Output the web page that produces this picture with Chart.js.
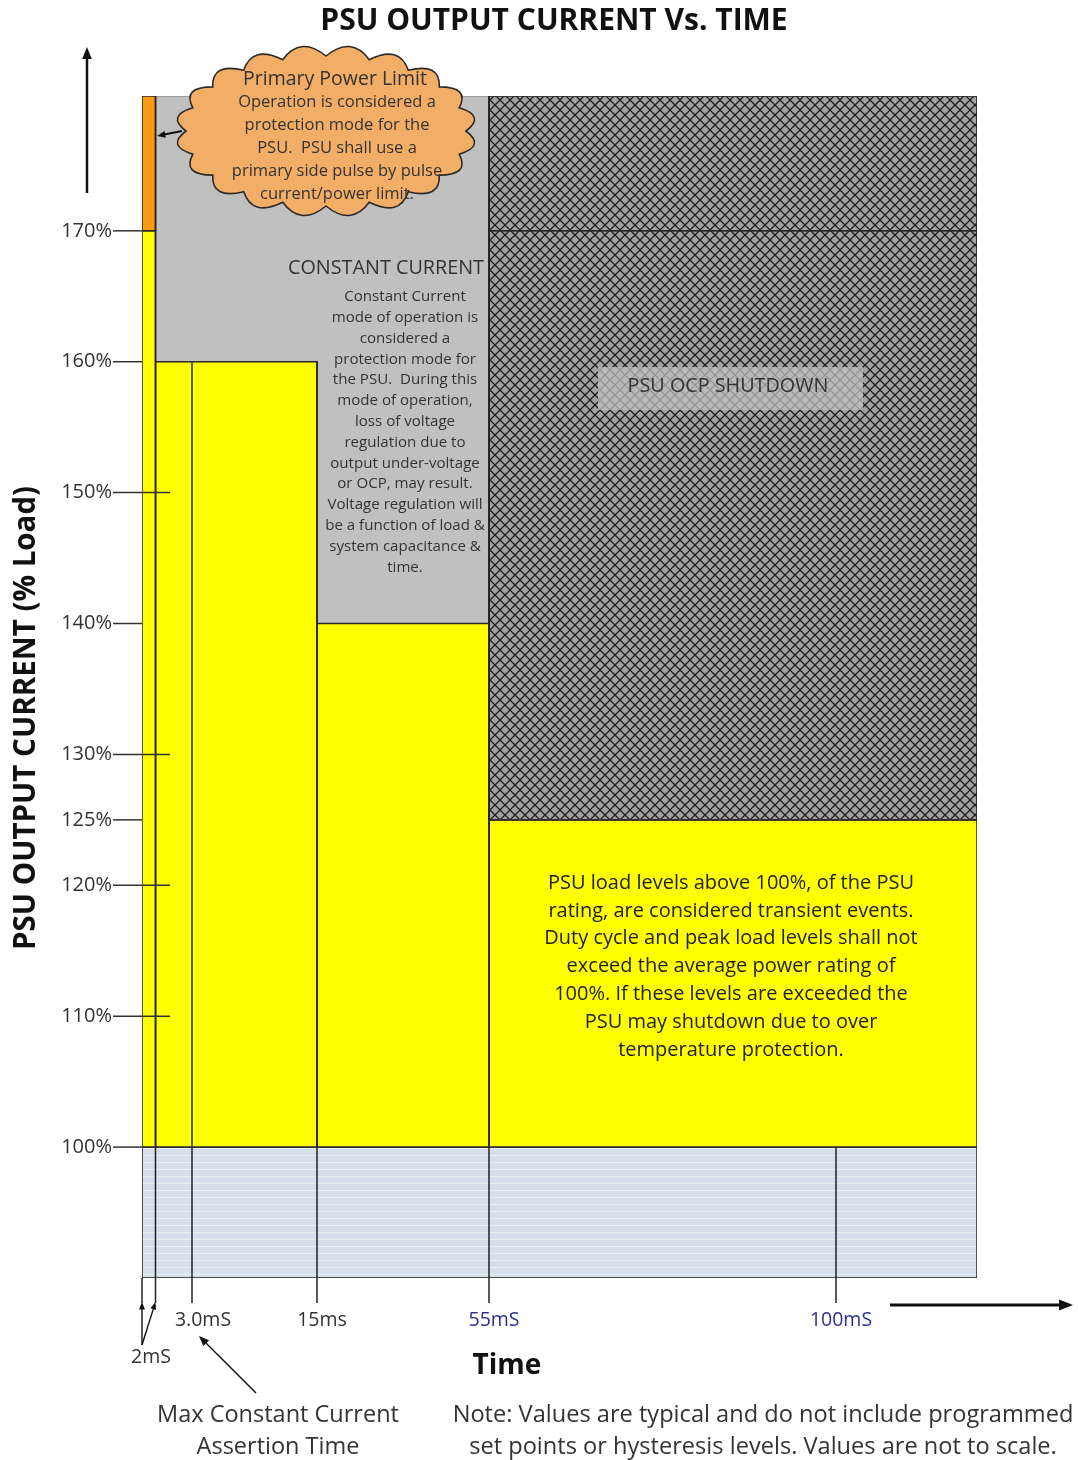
<!DOCTYPE html>
<html><head><meta charset="utf-8">
<script src="https://cdn.jsdelivr.net/npm/chart.js@4.4.1/dist/chart.umd.min.js"></script>
<style>html,body{margin:0;padding:0;background:#fff;}#wrap{width:1078px;height:1460px;position:relative;}</style>
</head><body><div id="wrap"><canvas id="c" width="1078" height="1460"></canvas></div>
<script>
// ================= DATA =================
const LOAD_MIN = 90;          // % load at the bottom of the diagram
const LOAD_MAX = 180.3;       // % load at the top of the diagram
const TIME_END = 120;         // ms, right end of the (not to scale) time axis

const timeTicksMs    = [2, 3, 15, 55, 100];
const timeTickLabels = ['2mS', '3.0mS', '15ms', '55mS', '100mS'];
const timeMarkerTop  = [LOAD_MAX, 160, 160, LOAD_MAX, 100];   // load level where each time marker starts

const loadTicks      = [100, 110, 120, 125, 130, 140, 150, 160, 170];
const loadTickLabels = ['100%', '110%', '120%', '125%', '130%', '140%', '150%', '160%', '170%'];

// regions as [tStart ms, tEnd ms, loadLow %, loadHigh %]
const normalOperation   = [[0, TIME_END, 90, 100]];
const transientLoad     = [[0, 2, 100, 170], [2, 15, 100, 160], [15, 55, 100, 140], [55, TIME_END, 100, 125]];
const primaryPowerLimit = [[0, 2, 170, LOAD_MAX]];
const ocpShutdown       = [[55, TIME_END, 125, 170], [55, TIME_END, 170, LOAD_MAX]];
// constant current region as polygon vertices [t ms, load %]
const constantCurrent   = [[2, 160], [15, 160], [15, 140], [55, 140], [55, LOAD_MAX], [2, LOAD_MAX]];

// ================= LAYOUT (schematic, not to scale) =================
const schematicTimes = [0, 2, 3, 15, 55, 100, TIME_END];
const schematicUnits = [0, 13.5, 50, 175, 347, 694, 835];
function sx(t) {
  for (let i = 1; i < schematicTimes.length; i++) {
    if (t <= schematicTimes[i]) {
      const a = schematicTimes[i - 1], b = schematicTimes[i];
      return schematicUnits[i - 1] + (t - a) / (b - a) * (schematicUnits[i] - schematicUnits[i - 1]);
    }
  }
  return schematicUnits[schematicUnits.length - 1];
}

const FONT = '"Open Sans", "DejaVu Sans", sans-serif';

function makePattern(w, h, draw) {
  const c = document.createElement('canvas'); c.width = w; c.height = h;
  draw(c.getContext('2d'));
  return c.getContext('2d').createPattern(c, 'repeat');
}
const crossHatch = makePattern(10, 10, g => {
  g.fillStyle = '#a2a2a2'; g.fillRect(0, 0, 10, 10);
  g.strokeStyle = '#1e1e1e'; g.lineWidth = 1.25;
  g.beginPath(); g.moveTo(0, 0); g.lineTo(10, 10); g.moveTo(10, 0); g.lineTo(0, 10); g.stroke();
});
const lightStripes = makePattern(8, 7, g => {
  g.fillStyle = '#d6dfec'; g.fillRect(0, 0, 8, 7);
  g.fillStyle = '#ebf0f7'; g.fillRect(0, 0, 8, 1);
});

function rectPts(r) {
  const [t0, t1, a, b] = r;
  return [{x: sx(t0), y: a}, {x: sx(t1), y: a}, {x: sx(t1), y: b}, {x: sx(t0), y: b}, {x: sx(t0), y: a}];
}
function polyPts(p) {
  const pts = p.map(([t, v]) => ({x: sx(t), y: v}));
  pts.push(pts[0]);
  return pts;
}

const datasets = [];
function addRegion(label, rects, bg, border, bw, order) {
  rects.forEach(r => datasets.push({
    label, data: rectPts(r), fill: 'shape', backgroundColor: bg,
    borderColor: border, borderWidth: bw, pointRadius: 0, tension: 0, order, borderJoinStyle: 'miter'
  }));
}
datasets.push({label: 'Constant current', data: polyPts(constantCurrent), fill: 'shape',
  backgroundColor: '#c0c0c0', borderColor: '#7a7a7a', borderWidth: 1.2, pointRadius: 0, tension: 0, order: 60});
addRegion('Normal operation', normalOperation, lightStripes, '#222', 1.5, 50);
addRegion('Transient load', transientLoad, '#ffff00', '#2a2a2a', 1.5, 40);
addRegion('Primary power limit', primaryPowerLimit, '#fb9a0e', '#2a2a2a', 1.5, 30);
addRegion('PSU OCP shutdown', ocpShutdown, crossHatch, '#2a2a2a', 1.7, 20);
timeTicksMs.forEach((t, i) => datasets.push({
  label: timeTickLabels[i], data: [{x: sx(t), y: LOAD_MIN}, {x: sx(t), y: timeMarkerTop[i]}],
  fill: false, borderColor: '#222', borderWidth: 1.5, pointRadius: 0, order: 5
}));

// ================= ANNOTATIONS =================
function arrow(ctx, x1, y1, x2, y2, head, width, color) {
  ctx.save();
  ctx.strokeStyle = color || '#111'; ctx.fillStyle = color || '#111'; ctx.lineWidth = width;
  const ang = Math.atan2(y2 - y1, x2 - x1);
  const bx = x2 - Math.cos(ang) * head * 0.8, by = y2 - Math.sin(ang) * head * 0.8;
  ctx.beginPath(); ctx.moveTo(x1, y1); ctx.lineTo(bx, by); ctx.stroke();
  ctx.beginPath(); ctx.moveTo(x2, y2);
  ctx.lineTo(x2 - head * Math.cos(ang - 0.38), y2 - head * Math.sin(ang - 0.38));
  ctx.lineTo(x2 - head * Math.cos(ang + 0.38), y2 - head * Math.sin(ang + 0.38));
  ctx.closePath(); ctx.fill();
  ctx.restore();
}
function text(ctx, s, x, y, size, opts) {
  opts = opts || {};
  ctx.save();
  ctx.font = (opts.bold ? 'bold ' : '') + size + 'px ' + FONT;
  ctx.fillStyle = opts.color || '#222';
  ctx.textAlign = opts.align || 'center';
  ctx.textBaseline = 'middle';
  ctx.fillText(s, x, y);
  ctx.restore();
}
function lines(ctx, arr, x, y0, dy, size, opts) {
  arr.forEach((s, i) => text(ctx, s, x, y0 + i * dy, size, opts));
}
function cloud(ctx, cx, cy, rx, ry, n, bump) {
  ctx.save();
  ctx.beginPath();
  for (let i = 0; i < n; i++) {
    const a0 = i / n * Math.PI * 2, a1 = (i + 1) / n * Math.PI * 2, am = (a0 + a1) / 2;
    const p0x = cx + rx * Math.cos(a0), p0y = cy + ry * Math.sin(a0);
    const p1x = cx + rx * Math.cos(a1), p1y = cy + ry * Math.sin(a1);
    const cxp = cx + (rx + bump * 2) * Math.cos(am), cyp = cy + (ry + bump * 2) * Math.sin(am);
    if (i === 0) ctx.moveTo(p0x, p0y);
    ctx.quadraticCurveTo(cxp, cyp, p1x, p1y);
  }
  ctx.closePath();
  ctx.fillStyle = '#f2ad66'; ctx.fill();
  ctx.strokeStyle = '#2a2a2a'; ctx.lineWidth = 1.6; ctx.stroke();
  ctx.restore();
}

const annotationPlugin = {
  id: 'psuAnnotations',
  afterDraw(chart) {
    const ctx = chart.ctx, xs = chart.scales.x, ys = chart.scales.y, area = chart.chartArea;
    const X = t => xs.getPixelForValue(sx(t));
    const Y = v => ys.getPixelForValue(v);

    // title
    text(ctx, 'PSU OUTPUT CURRENT Vs. TIME', 554, 21, 30, {bold: true, color: '#111'});
    // y title
    ctx.save(); ctx.translate(27, 718); ctx.rotate(-Math.PI / 2);
    text(ctx, 'PSU OUTPUT CURRENT (% Load)', 0, 0, 29.5, {bold: true, color: '#111'});
    ctx.restore();
    arrow(ctx, 87, 193, 87, 47, 13, 2.5);

    // y ticks
    const boundaryLoads = new Set();
    [normalOperation, transientLoad, ocpShutdown].forEach(g => g.forEach(r => { boundaryLoads.add(r[2]); boundaryLoads.add(r[3]); }));
    constantCurrent.forEach(p => boundaryLoads.add(p[1]));
    ctx.save(); ctx.strokeStyle = '#333'; ctx.lineWidth = 1.5;
    loadTicks.forEach((v, i) => {
      const y = Y(v);
      const right = boundaryLoads.has(v) ? area.left : area.left + 28;
      ctx.beginPath(); ctx.moveTo(area.left - 29, y); ctx.lineTo(right, y); ctx.stroke();
      text(ctx, loadTickLabels[i], area.left - 30, y, 20, {align: 'right', color: '#333'});
    });
    ctx.restore();

    // x ticks
    ctx.save(); ctx.strokeStyle = '#222'; ctx.lineWidth = 1.5;
    timeTicksMs.forEach((t, i) => {
      const x = X(t);
      ctx.beginPath(); ctx.moveTo(x, area.bottom); ctx.lineTo(x, area.bottom + 25); ctx.stroke();
      if (i === 0) return;
      const blue = t >= 55;
      text(ctx, timeTickLabels[i], x + (i === 1 ? 11 : 5), area.bottom + 42, 19.5, {color: blue ? '#2d3196' : '#333'});
    });
    ctx.beginPath(); ctx.moveTo(area.left, area.bottom); ctx.lineTo(area.left, area.bottom + 25); ctx.stroke();
    ctx.restore();
    const x0 = X(0), x2 = X(timeTicksMs[0]);
    arrow(ctx, x0, area.bottom + 67, x0, area.bottom + 24, 8, 1.4);
    arrow(ctx, x0, area.bottom + 67, x2, area.bottom + 24, 8, 1.4);
    text(ctx, timeTickLabels[0], x0 + 9, area.bottom + 79, 19.5, {color: '#333'});
    arrow(ctx, 256, 1393, 199, 1336, 11, 1.4);
    lines(ctx, ['Max Constant Current', 'Assertion Time'], 278, 1415, 32, 23.5, {color: '#333'});
    text(ctx, 'Time', 507, 1366, 28, {bold: true, color: '#111'});
    arrow(ctx, 890, 1305, 1073, 1305, 15, 3);
    lines(ctx, ['Note: Values are typical and do not include programmed',
                'set points or hysteresis levels. Values are not to scale.'], 763, 1415, 32, 23.6, {color: '#333'});

    // constant current text
    const ccX = (X(15) + X(55)) / 2;
    text(ctx, 'CONSTANT CURRENT', ccX - 17, 268, 19.8, {color: '#333'});
    lines(ctx, ['Constant Current', 'mode of operation is', 'considered a', 'protection mode for',
      'the PSU.  During this', 'mode of operation,', 'loss of voltage', 'regulation due to',
      'output under-voltage', 'or OCP, may result.', 'Voltage regulation will',
      'be a function of load &', 'system capacitance &', 'time.'], ccX + 2, 297, 20.8, 15.1, {color: '#333'});

    // OCP shutdown label
    const ocX = (X(55) + X(TIME_END)) / 2;
    ctx.save(); ctx.fillStyle = 'rgba(196,196,196,0.72)';
    ctx.fillRect(ocX - 135, 367, 265, 43); ctx.restore();
    text(ctx, 'PSU OCP SHUTDOWN', ocX - 5, 386, 19.8, {color: '#333'});

    // transient text
    lines(ctx, ['PSU load levels above 100%, of the PSU', 'rating, are considered transient events.',
      'Duty cycle and peak load levels shall not', 'exceed the average power rating of',
      '100%. If these levels are exceeded the', 'PSU may shutdown due to over',
      'temperature protection.'], ocX - 2, 883, 27.8, 20, {color: '#222'});

    // primary power limit cloud
    cloud(ctx, 326, 131, 140, 75, 20, 11);
    arrow(ctx, 182, 131, 157, 136, 9, 2);
    text(ctx, 'Primary Power Limit', 335, 79, 19.5, {color: '#333'});
    lines(ctx, ['Operation is considered a', 'protection mode for the', 'PSU.  PSU shall use a',
      'primary side pulse by pulse', 'current/power limit.'], 337, 102, 23, 16.5, {color: '#333'});
  }
};

new Chart(document.getElementById('c').getContext('2d'), {
  type: 'line',
  data: {datasets},
  options: {
    responsive: false, animation: false, devicePixelRatio: 1, events: [],
    layout: {padding: {left: 142, right: 101, top: 96, bottom: 182}},
    scales: {
      x: {type: 'linear', min: 0, max: sx(TIME_END), display: false},
      y: {type: 'linear', min: LOAD_MIN, max: LOAD_MAX, display: false}
    },
    plugins: {legend: {display: false}, tooltip: {enabled: false}, title: {display: false}},
    elements: {point: {radius: 0}, line: {tension: 0}}
  },
  plugins: [annotationPlugin]
});
</script></body></html>
